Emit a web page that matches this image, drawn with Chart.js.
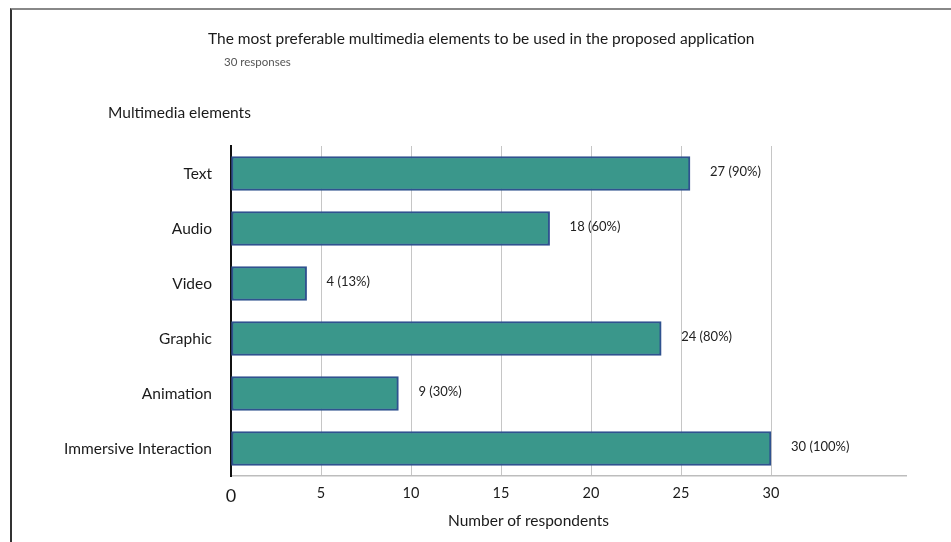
<!DOCTYPE html>
<html>
<head>
<meta charset="utf-8">
<script src="https://cdn.jsdelivr.net/npm/chart.js@4"></script>
<style>
  html, body { margin: 0; padding: 0; background: #fff; }
  #wrap { position: relative; width: 951px; height: 542px; overflow: hidden; font-family: Lato, "Noto Sans", sans-serif; color: #1a1a1a; }
  #frame { position: absolute; left: 10px; top: 8px; width: 941px; height: 534px; border-top: 2px solid #888; border-left: 2px solid #333; box-sizing: border-box; }
  #chart { position: absolute; left: 0; top: 0; }
  .txt { position: absolute; white-space: nowrap; line-height: 1; }
  #title { left: 208px; top: 31px; font-size: 15.5px; }
  #sub { left: 224px; top: 56px; font-size: 11.5px; color: #555; }
  #yname { left: 108px; top: 105px; font-size: 15.5px; }
  #xname { left: 448px; top: 513px; font-size: 15.5px; }
</style>
</head>
<body>
<div id="wrap">
  <div id="frame"></div>
  <canvas id="chart" width="951" height="542"></canvas>
  <div class="txt" id="title">The most preferable multimedia elements to be used in the proposed application</div>
  <div class="txt" id="sub">30 responses</div>
  <div class="txt" id="yname">Multimedia elements</div>
  <div class="txt" id="xname">Number of respondents</div>
</div>
<script>
// datos
const categories = ["Text", "Audio", "Video", "Graphic", "Animation", "Immersive Interaction"];
// largo de barra tal como se dibuja en la figura
const barValues = [25.5, 17.7, 4.2, 23.9, 9.3, 30];
// etiquetas de valor que muestra la figura
const valueLabels = ["27 (90%)", "18 (60%)", "4 (13%)", "24 (80%)", "9 (30%)", "30 (100%)"];
const xTicks = [0, 5, 10, 15, 20, 25, 30];

const FONT = "Lato, 'Noto Sans', sans-serif";

// etiquetas a la derecha de cada barra
const barLabels = {
  id: "barLabels",
  afterDatasetsDraw(chart) {
    const ctx = chart.ctx;
    const meta = chart.getDatasetMeta(0);
    ctx.save();
    ctx.font = "13px " + FONT;
    ctx.fillStyle = "#222";
    ctx.textBaseline = "middle";
    ctx.textAlign = "left";
    meta.data.forEach((bar, i) => {
      ctx.fillText(valueLabels[i], bar.x + 20, bar.y - 2);
    });
    ctx.restore();
  }
};

new Chart(document.getElementById("chart"), {
  type: "bar",
  data: {
    labels: categories,
    datasets: [{
      data: barValues,
      backgroundColor: "#3a978b",
      borderColor: "#2f528f",
      borderWidth: 2,
      borderSkipped: false,
      barThickness: 34
    }]
  },
  options: {
    indexAxis: "y",
    responsive: false,
    animation: false,
    layout: { padding: { top: 146, right: 45, left: 0, bottom: 0 } },
    plugins: {
      legend: { display: false },
      tooltip: { enabled: false }
    },
    scales: {
      x: {
        min: 0,
        max: 37.5,
        afterBuildTicks: (scale) => {
          scale.ticks = xTicks.map(v => ({ value: v }));
        },
        afterFit: (scale) => { scale.height = 66; },
        grid: {
          drawTicks: false,
          color: (c) => (c.tick && c.tick.value === 0 ? "rgba(0,0,0,0)" : "#c6c6c6"),
          lineWidth: 1
        },
        border: { color: "#bdbdbd", width: 1.5 },
        ticks: {
          padding: 9,
          color: "#1a1a1a",
          font: (c) => ({ family: FONT, size: c.tick && c.tick.value === 0 ? 18 : 14.5 })
        }
      },
      y: {
        afterFit: (scale) => { scale.width = 231; },
        grid: { display: false, drawTicks: false },
        border: { color: "#111", width: 2 },
        ticks: {
          padding: 19,
          color: "#1a1a1a",
          font: { family: FONT, size: 15.5 }
        }
      }
    }
  },
  plugins: [barLabels]
});
</script>
</body>
</html>
